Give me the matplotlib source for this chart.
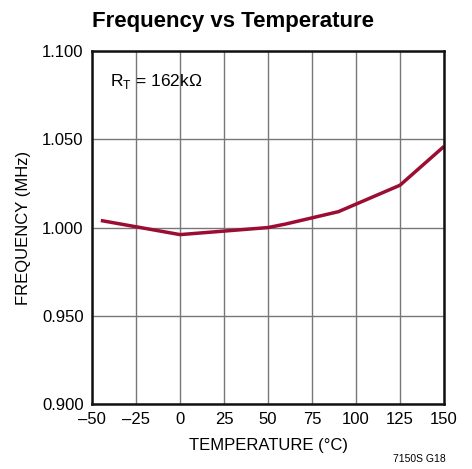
import matplotlib
matplotlib.use("Agg")
import matplotlib.pyplot as plt

plt.rcParams['font.family'] = ['Liberation Sans', 'DejaVu Sans']

temperature = [-45, 0, 25, 50, 60, 90, 125, 150]
frequency = [1.004, 0.996, 0.998, 1.000, 1.002, 1.009, 1.024, 1.046]
xticks = [-50, -25, 0, 25, 50, 75, 100, 125, 150]
xticklabels = ["\u201350", "\u201325", "0", "25", "50", "75", "100", "125", "150"]
yticks = [0.900, 0.950, 1.000, 1.050, 1.100]
yticklabels = ["0.900", "0.950", "1.000", "1.050", "1.100"]

fig = plt.figure(figsize=(4.72, 4.69), dpi=100)
ax = fig.add_axes([0.195, 0.1386, 0.7457, 0.7524])
ax.plot(temperature, frequency, color="#9b0d33", lw=2.5, solid_capstyle="butt")
ax.set_xlim(-50, 150)
ax.set_ylim(0.9, 1.1)
ax.set_xticks(xticks)
ax.set_xticklabels(xticklabels)
ax.set_yticks(yticks)
ax.set_yticklabels(yticklabels)
ax.tick_params(length=0, labelsize=12, pad=6)
ax.grid(True, color="#777777", lw=1)
ax.set_axisbelow(True)
for s in ax.spines.values():
    s.set_linewidth(1.8)
    s.set_color("#111111")
ax.set_xlabel("TEMPERATURE (\u00b0C)", fontsize=12, labelpad=8)
ax.set_ylabel("FREQUENCY (MHz)", fontsize=12, labelpad=8)
ax.text(-40, 1.083, "R$_\\mathregular{T}$ = 162k\u03a9", fontsize=12.5, va="center", ha="left")
fig.text(0.195, 0.955, "Frequency vs Temperature", fontsize=16,
         fontweight="bold", ha="left", va="center")
fig.text(0.945, 0.022, "7150S G18", fontsize=7.5, ha="right", va="center")
fig.savefig("out.png", dpi=100)
